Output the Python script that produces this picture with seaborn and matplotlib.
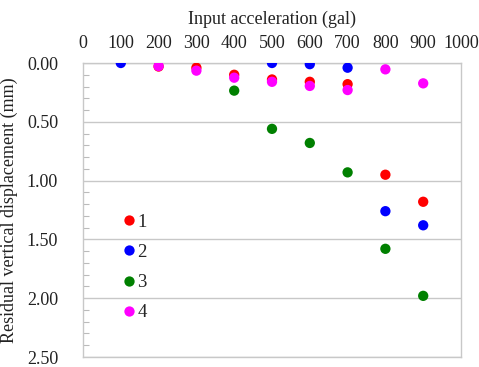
import numpy as np
import pandas as pd
import seaborn as sns
import matplotlib.pyplot as plt
from matplotlib.ticker import MultipleLocator, FormatStrFormatter

accel = [100, 200, 300, 400, 500, 600, 700, 800, 900]
s1 = [np.nan, 0.03, 0.04, 0.10, 0.14, 0.16, 0.18, 0.95, 1.18]
s2 = [0.00, np.nan, np.nan, np.nan, 0.00, 0.01, 0.04, 1.26, 1.38]
s3 = [np.nan, np.nan, np.nan, 0.235, 0.56, 0.68, 0.93, 1.58, 1.98]
s4 = [np.nan, 0.026, 0.065, 0.125, 0.16, 0.195, 0.23, 0.054, 0.173]
names = ['1', '2', '3', '4']
colors = ['#ff0000', '#0000ff', '#008000', '#ff00ff']

df = pd.DataFrame({'accel': accel, '1': s1, '2': s2, '3': s3, '4': s4})
df = df.melt(id_vars='accel', var_name='series', value_name='disp').dropna()

sns.set_style('white')
plt.rcParams['font.family'] = ['Liberation Serif', 'DejaVu Serif']

fig = plt.figure(figsize=(4.79, 3.67), dpi=100)
ax = fig.add_axes([83 / 479, 1 - 357 / 367, 378 / 479, 294 / 367])

sns.scatterplot(data=df, x='accel', y='disp', hue='series', hue_order=names,
                palette=colors, s=55, edgecolor='none', ax=ax, zorder=3)

ax.set_xlim(0, 1000)
ax.set_ylim(2.5, 0)
ax.xaxis.set_major_locator(MultipleLocator(100))
ax.yaxis.set_major_locator(MultipleLocator(0.5))
ax.yaxis.set_minor_locator(MultipleLocator(0.1))
ax.yaxis.set_major_formatter(FormatStrFormatter('%.2f'))
ax.xaxis.tick_top()
ax.xaxis.set_label_position('top')
ax.tick_params(axis='x', length=0, labelsize=13, pad=8, colors='#222222')
ax.tick_params(axis='y', which='major', length=0, labelsize=13, pad=18, colors='#222222')
ax.tick_params(axis='y', which='minor', direction='in', length=4, color='#bbbbbb', width=0.8)
ax.yaxis.set_tick_params(which='minor', left=True)
ax.grid(axis='y', which='major', color='#c8c8c8', lw=1)
for sp in ax.spines.values():
    sp.set_color('#c8c8c8')
    sp.set_linewidth(1)

ax.set_xlabel('Input acceleration (gal)', fontsize=13, labelpad=8, color='#222222')
ax.set_ylabel('Residual vertical displacement (mm)', fontsize=13, labelpad=6, color='#222222')

ax.legend(loc='upper left', bbox_to_anchor=(0.077, 0.52), frameon=False, fontsize=13.5,
          labelspacing=0.7, handlelength=0.8, handletextpad=0.05, borderpad=0)

fig.savefig('out.png', dpi=100)
